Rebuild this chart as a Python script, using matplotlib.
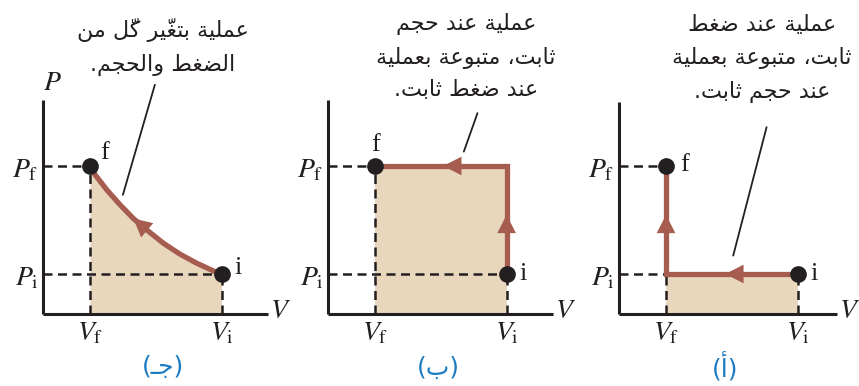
import matplotlib.pyplot as plt

plt.rcParams['mathtext.fontset'] = 'stix'
plt.rcParams['font.family'] = ['DejaVu Sans']

# schematic values of the three P-V diagrams
V_f, V_i = 1.0, 3.8
P_i, P_f = 1.0, 3.7

# curved path of panel (جـ), from f to i
curve_V = [1.0, 1.11, 1.36, 1.64, 1.92, 2.21, 2.56, 2.91, 3.27, 3.62, 3.8]
curve_P = [3.7, 3.48, 3.10, 2.73, 2.39, 2.10, 1.77, 1.50, 1.27, 1.08, 1.0]

# two-step paths, from i to f
path_b_V = [V_i, V_i, V_f]
path_b_P = [P_i, P_f, P_f]
path_a_V = [V_i, V_f, V_f]
path_a_P = [P_i, P_i, P_f]

captions = [
    ["عملية بتغيّر كلّ من", "الضغط والحجم."],
    ["عملية عند حجم", "ثابت، متبوعة بعملية", "عند ضغط ثابت."],
    ["عملية عند ضغط", "ثابت، متبوعة بعملية", "عند حجم ثابت."],
]
panel_labels = ["جـ", "ب", "أ"]

# callout lines (start near the caption, end near the path)
pointer_from = [(2.38, 5.73), (3.18, 5.02), (3.14, 4.67)]
pointer_to = [(1.70, 2.98), (2.89, 4.06), (2.43, 1.46)]

BROWN = '#a65c4f'
FILL = '#e8d7bd'
BLUE = '#1b7cc2'
INK = '#231f20'

# ---- minimal Arabic shaping (contextual forms + visual order) ----
_start = {'ء': 0xFE80, 'آ': 0xFE81, 'أ': 0xFE83, 'ؤ': 0xFE85, 'إ': 0xFE87,
          'ئ': 0xFE89, 'ا': 0xFE8D, 'ب': 0xFE8F, 'ة': 0xFE93, 'ت': 0xFE95,
          'ث': 0xFE99, 'ج': 0xFE9D, 'ح': 0xFEA1, 'خ': 0xFEA5, 'د': 0xFEA9,
          'ذ': 0xFEAB, 'ر': 0xFEAD, 'ز': 0xFEAF, 'س': 0xFEB1, 'ش': 0xFEB5,
          'ص': 0xFEB9, 'ض': 0xFEBD, 'ط': 0xFEC1, 'ظ': 0xFEC5, 'ع': 0xFEC9,
          'غ': 0xFECD, 'ف': 0xFED1, 'ق': 0xFED5, 'ك': 0xFED9, 'ل': 0xFEDD,
          'م': 0xFEE1, 'ن': 0xFEE5, 'ه': 0xFEE9, 'و': 0xFEED, 'ي': 0xFEF1}
_right_only = set('آأؤإاةدذرزو')


def _mark(c):
    return '\u064b' <= c <= '\u0652'


def _joins_next(c):
    return c == 'ـ' or (c in _start and c not in _right_only and c != 'ء')


def _joins_prev(c):
    return c == 'ـ' or (c in _start and c != 'ء')


def shape(s):
    out = []
    n = len(s)
    for k, c in enumerate(s):
        if c not in _start:
            out.append(c)
            continue
        j = k - 1
        while j >= 0 and _mark(s[j]):
            j -= 1
        prev = s[j] if j >= 0 else ''
        j = k + 1
        while j < n and _mark(s[j]):
            j += 1
        nxt = s[j] if j < n else ''
        p = prev != '' and _joins_next(prev) and _joins_prev(c)
        q = nxt != '' and _joins_next(c) and _joins_prev(nxt)
        off = 3 if (p and q) else 1 if p else 2 if q else 0
        out.append(chr(_start[c] + off))
    clusters = []
    for c in out:
        if _mark(c) and clusters:
            clusters[-1] += c
        else:
            clusters.append(c)
    return ''.join(reversed(clusters))


# ---- figure ----
W, H = 859, 386
fig = plt.figure(figsize=(W / 100, H / 100), dpi=100)

X_PX, Y_PX = 47, 40          # pixels per unit
origins = [(43, 314), (328, 314), (619, 314)]
sizes = [(225, 214), (225, 214), (218, 212)]
caption_xy = [(163, 18), (466, 13), (762, 15)]
label_xy = [(163, 367), (438, 368), (725, 367)]

axes = []
for (ox, oy), (w, h) in zip(origins, sizes):
    ax = fig.add_axes([ox / W, (H - oy) / H, w / W, h / H])
    ax.set_xlim(0, w / X_PX)
    ax.set_ylim(0, h / Y_PX)
    ax.patch.set_alpha(0)
    for s in ('top', 'right'):
        ax.spines[s].set_visible(False)
    for s in ('left', 'bottom'):
        ax.spines[s].set_linewidth(2.2)
        ax.spines[s].set_color(INK)
        ax.spines[s].set_capstyle('butt')
    ax.set_xticks([V_f, V_i], [r'$V_{\rm f}$', r'$V_{\rm i}$'])
    ax.set_yticks([P_i, P_f], [r'$P_{\rm i}$', r'$P_{\rm f}$'])
    ax.tick_params(length=0, labelsize=20, colors=INK, pad=3)
    ax.text(1.01, 0.02, r'$V$', transform=ax.transAxes, fontsize=20,
            va='center', ha='left', color=INK)
    axes.append(ax)
axes[0].text(0.0, 1.02, r'$P$', transform=axes[0].transAxes, fontsize=20,
             va='bottom', ha='left', color=INK)

dash = dict(color=INK, lw=1.8, ls=(0, (3.6, 2.2)), zorder=2)
line = dict(color=BROWN, lw=3.8, zorder=3, solid_joinstyle='miter',
            solid_capstyle='butt')


def arrow(ax, tip, tail):
    ax.annotate('', xy=tip, xytext=tail,
                arrowprops=dict(arrowstyle='-|>,head_length=0.55,head_width=0.28',
                                color=BROWN, lw=0, shrinkA=0, shrinkB=0,
                                mutation_scale=24), zorder=4)


for k, ax in enumerate(axes):
    for v, p in ((V_f, P_f), (V_i, P_i)):
        ax.plot([0, v], [p, p], **dash)
        ax.plot([v, v], [0, p], **dash)

# panel (جـ)
ax = axes[0]
ax.fill_between(curve_V, curve_P, 0, color=FILL, lw=0, zorder=1)
ax.plot(curve_V, curve_P, color=BROWN, lw=3.8, zorder=3,
        solid_joinstyle='round', solid_capstyle='round')
arrow(ax, (curve_V[4], curve_P[4]), (curve_V[5], curve_P[5]))

# panel (ب)
ax = axes[1]
ax.fill_between([V_f, V_i], [P_f, P_f], 0, color=FILL, lw=0, zorder=1)
ax.plot(path_b_V, path_b_P, **line)
arrow(ax, (V_i, 2.48), (V_i, 2.0))
arrow(ax, (2.45, P_f), (2.95, P_f))

# panel (أ)
ax = axes[2]
ax.fill_between([V_f, V_i], [P_i, P_i], 0, color=FILL, lw=0, zorder=1)
ax.plot(path_a_V, path_a_P, **line)
arrow(ax, (V_f, 2.48), (V_f, 2.0))
arrow(ax, (2.26, P_i), (2.76, P_i))

serif = dict(family='Liberation Serif', fontsize=19, color=INK, zorder=6)
f_off = [(7, 9), (-3, 15), (10, 1)]
i_off = [(9, 4), (9, 0), (9, 0)]
for k, ax in enumerate(axes):
    ax.plot([V_f, V_i], [P_f, P_i], 'o', color=INK, ms=11, zorder=5,
            clip_on=False)
    ax.annotate('f', (V_f, P_f), xytext=f_off[k], textcoords='offset points',
                va='center', ha='left', **serif)
    ax.annotate('i', (V_i, P_i), xytext=i_off[k], textcoords='offset points',
                va='center', ha='left', **serif)
    ax.annotate('', xy=pointer_to[k], xytext=pointer_from[k],
                arrowprops=dict(arrowstyle='-', color=INK, lw=1.3,
                                shrinkA=0, shrinkB=0),
                annotation_clip=False)

for k in range(3):
    cx, cy = caption_xy[k]
    fig.text(cx / W, 1 - cy / H, '\n'.join(shape(t) for t in captions[k]),
             ha='center', va='top', multialignment='center', fontsize=16,
             linespacing=1.7, color=INK)
    lx, ly = label_xy[k]
    fig.text(lx / W, 1 - ly / H, '(' + shape(panel_labels[k]) + ')',
             ha='center', va='center', fontsize=18, color=BLUE)

fig.savefig('out.png', dpi=100)
